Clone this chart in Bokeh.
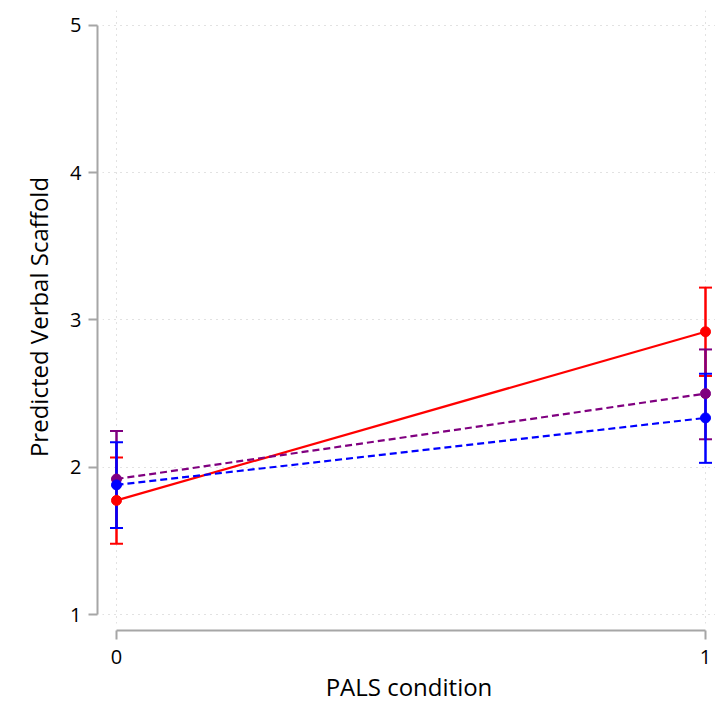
from bokeh.plotting import figure
from bokeh.models import (ColumnDataSource, LinearAxis, FixedTicker, Whisker, TeeHead)
from bokeh.embed import file_html
from bokeh.resources import INLINE

# ---- data ----
pals = [0, 1]
x_ticks = [0, 1]
y_ticks = [1, 2, 3, 4, 5]

red_mean = [1.775, 2.92]
red_lo = [1.48, 2.62]
red_hi = [2.066, 3.22]

purple_mean = [1.92, 2.50]
purple_lo = [1.588, 2.19]
purple_hi = [2.247, 2.80]

blue_mean = [1.88, 2.335]
blue_lo = [1.588, 2.03]
blue_hi = [2.17, 2.635]

series = [
    ("red", "solid", red_mean, red_lo, red_hi),
    ("#800080", "7 4", purple_mean, purple_lo, purple_hi),
    ("blue", "7 4", blue_mean, blue_lo, blue_hi),
]

FONT = "Open Sans"
AX_COL = "#a6a6a6"
GRID_COL = "#c4c4c4"

PXX = 589.0
PXY = 147.5
p = figure(width=715, height=705,
           x_range=(-14 / PXX, 1 + 10 / PXX), y_range=(1 - 9 / PXY, 5 + 15 / PXY),
           x_axis_location=None, y_axis_location=None,
           output_backend="svg", toolbar_location=None,
           min_border_left=102, min_border_top=10, min_border_right=0, min_border_bottom=81)
p.outline_line_color = None
p.background_fill_color = "white"
p.border_fill_color = "white"

# grids
p.xgrid.ticker = FixedTicker(ticks=x_ticks)
p.ygrid.ticker = FixedTicker(ticks=y_ticks)
for g in (p.xgrid, p.ygrid):
    g.grid_line_color = GRID_COL
    g.grid_line_dash = "1 5"
    g.grid_line_width = 1

def spacer(size, tick):
    # invisible axis that only reserves space between the frame and the real axis
    return LinearAxis(ticker=FixedTicker(ticks=[tick]), axis_line_color=None,
                      major_tick_out=size, major_tick_in=0,
                      major_tick_line_color="white", major_tick_line_width=1,
                      minor_tick_out=0, minor_tick_in=0, minor_tick_line_color=None,
                      major_label_standoff=0, major_label_overrides={tick: ""},
                      major_label_text_font_size="0px", axis_label=None)

p.add_layout(spacer(7, 0.5), "below")
p.add_layout(spacer(5, 3), "left")

xaxis = LinearAxis(ticker=FixedTicker(ticks=x_ticks), bounds=(0, 1),
                   axis_label="PALS condition")
yaxis = LinearAxis(ticker=FixedTicker(ticks=y_ticks), bounds=(1, 5),
                   axis_label="Predicted Verbal Scaffold")
for ax in (xaxis, yaxis):
    ax.axis_line_color = AX_COL
    ax.axis_line_width = 2
    ax.major_tick_line_color = AX_COL
    ax.major_tick_line_width = 2
    ax.major_tick_in = 0
    ax.minor_tick_line_color = None
    ax.major_label_text_font = FONT
    ax.major_label_text_font_size = "20px"
    ax.major_label_text_color = "black"
    ax.axis_label_text_font = FONT
    ax.axis_label_text_font_size = "24px"
    ax.axis_label_text_font_style = "normal"
    ax.axis_label_text_color = "black"
xaxis.major_tick_out = 9
xaxis.major_label_standoff = 10
xaxis.axis_label_standoff = 3
yaxis.major_tick_out = 9
yaxis.major_label_standoff = 7
yaxis.axis_label_standoff = 12
p.add_layout(xaxis, "below")
p.add_layout(yaxis, "left")

# confidence intervals
for color, dash, mean, lo, hi in series:
    src = ColumnDataSource(dict(x=pals, lo=lo, hi=hi))
    w = Whisker(source=src, base="x", lower="lo", upper="hi",
                line_color=color, line_width=2.5,
                lower_head=TeeHead(size=13, line_color=color, line_width=2),
                upper_head=TeeHead(size=13, line_color=color, line_width=2))
    p.add_layout(w)

# lines and points
for color, dash, mean, lo, hi in series:
    p.line(pals, mean, line_color=color, line_width=2.2, line_dash=dash)
    p.scatter(pals, mean, size=10, fill_color=color, line_color=color)

open("out.html", "w").write(file_html(p, INLINE))
